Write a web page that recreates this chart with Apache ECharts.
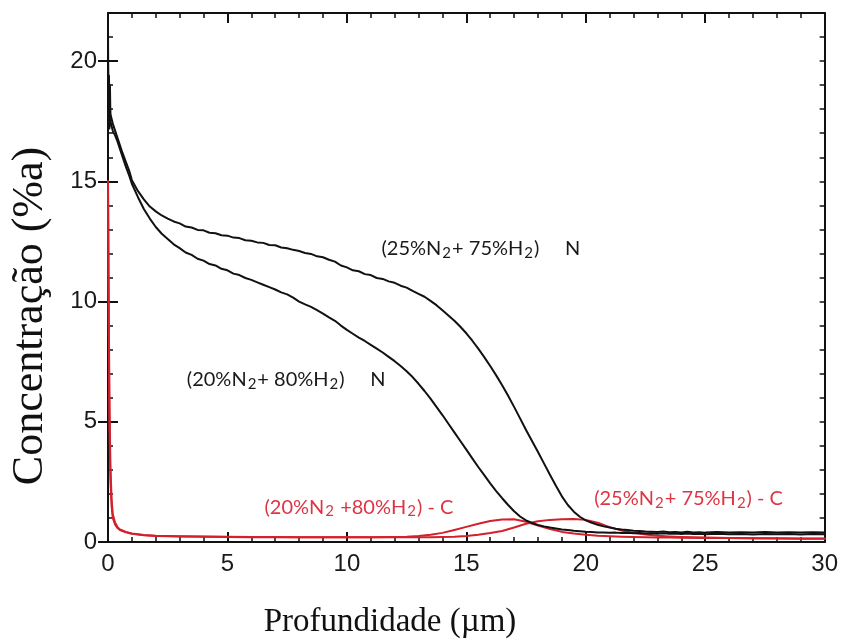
<!DOCTYPE html>
<html>
<head>
<meta charset="utf-8">
<title>Perfil de concentração</title>
<script src="https://cdn.jsdelivr.net/npm/echarts@6/dist/echarts.min.js"></script>
<style>
  html, body { margin: 0; padding: 0; background: #fff; }
  #chart { width: 841px; height: 642px; }
</style>
</head>
<body>
<div id="chart"></div>
<script>
// Depth grid (µm) for the nitrogen profiles
const depthN = [
  0, 0.02, 0.04, 0.06, 0.08, 0.1, 0.15, 0.2, 0.3, 0.4, 0.5, 0.6, 0.75, 0.9, 1.0,
  1.25, 1.5, 1.75, 2, 2.25, 2.5, 2.75, 3, 3.25, 3.5, 3.75, 4, 4.25, 4.5, 4.75, 5,
  5.25, 5.5, 5.75, 6, 6.25, 6.5, 6.75, 7, 7.25, 7.5, 7.75, 8, 8.25, 8.5, 8.75, 9, 9.25, 9.5, 9.75, 10,
  10.25, 10.5, 10.75, 11, 11.25, 11.5, 11.75, 12, 12.25, 12.5, 12.75, 13, 13.25, 13.5, 13.75, 14, 14.25, 14.5, 14.75, 15,
  15.25, 15.5, 15.75, 16, 16.25, 16.5, 16.75, 17, 17.25, 17.5, 17.75, 18, 18.25, 18.5, 18.75, 19, 19.25, 19.5, 19.75, 20,
  20.25, 20.5, 20.75, 21, 21.25, 21.5, 21.75, 22, 22.25, 22.5, 22.75, 23, 23.25, 23.5, 23.75, 24, 24.25, 24.5, 24.75, 25,
  25.5, 26, 26.5, 27, 27.5, 28, 28.5, 29, 29.5, 30
];

// N profile, (25%N2 + 75%H2)
const nitrogen25 = [
  21.2, 17.8, 19.4, 18.0, 19.0, 17.8, 17.6, 17.4, 17.1, 16.8, 16.5, 16.2, 15.8, 15.4, 15.05,
  14.6, 14.25, 13.95, 13.75, 13.58, 13.45, 13.33, 13.25, 13.12, 13.08, 12.98, 12.96, 12.86, 12.84, 12.76, 12.74,
  12.66, 12.64, 12.55, 12.53, 12.46, 12.44, 12.35, 12.34, 12.25, 12.22, 12.15, 12.1, 12.02, 11.98, 11.88, 11.84, 11.74, 11.66, 11.5, 11.42,
  11.3, 11.26, 11.14, 11.1, 10.98, 10.94, 10.84, 10.78, 10.66, 10.58, 10.44, 10.32, 10.2, 10.03, 9.85, 9.64, 9.42, 9.2, 8.95, 8.68,
  8.37, 8.04, 7.69, 7.32, 6.93, 6.52, 6.08, 5.62, 5.14, 4.66, 4.2, 3.74, 3.27, 2.8, 2.34, 1.9, 1.54, 1.26, 1.05, 0.9,
  0.8, 0.72, 0.65, 0.6, 0.55, 0.52, 0.5, 0.47, 0.46, 0.44, 0.43, 0.42, 0.44, 0.41, 0.42, 0.4, 0.43, 0.4, 0.41, 0.39,
  0.42, 0.4, 0.41, 0.39, 0.42, 0.4, 0.41, 0.39, 0.41, 0.4
];

// N profile, (20%N2 + 80%H2)
const nitrogen20 = [
  20.0, 17.4, 18.8, 17.2, 18.2, 17.5, 17.3, 17.1, 16.9, 16.65, 16.35, 16.05, 15.6, 15.2, 14.9,
  14.35, 13.85, 13.45, 13.1, 12.82, 12.6, 12.38, 12.22, 12.04, 11.94, 11.78, 11.7, 11.56, 11.5, 11.36, 11.3,
  11.16, 11.1, 10.98, 10.9, 10.8, 10.7, 10.6, 10.5, 10.38, 10.3, 10.16, 10.0, 9.88, 9.78, 9.64, 9.5, 9.34, 9.2, 9.0, 8.82,
  8.66, 8.5, 8.36, 8.2, 8.04, 7.88, 7.7, 7.52, 7.32, 7.1, 6.86, 6.58, 6.28, 5.96, 5.62, 5.28, 4.92, 4.56, 4.2, 3.84,
  3.48, 3.12, 2.78, 2.44, 2.12, 1.82, 1.54, 1.28, 1.06, 0.9, 0.79, 0.71, 0.65, 0.6, 0.56, 0.52, 0.5, 0.47, 0.45, 0.43,
  0.42, 0.4, 0.4, 0.38, 0.39, 0.37, 0.38, 0.36, 0.37, 0.35, 0.36, 0.34, 0.36, 0.34, 0.35, 0.33, 0.35, 0.33, 0.34, 0.32,
  0.34, 0.32, 0.33, 0.31, 0.33, 0.32, 0.33, 0.31, 0.33, 0.32
];

// Depth grid (µm) for the carbon profiles
const depthC = [
  0, 0.03, 0.06, 0.1, 0.15, 0.2, 0.3, 0.4, 0.5, 0.75, 1, 1.5, 2,
  3, 4, 5, 6, 7, 8, 9, 10, 11, 12,
  12.5, 13, 13.5, 14, 14.5, 15, 15.5, 16, 16.5, 17, 17.5, 18, 18.5, 19, 19.5, 20, 20.5, 21, 21.5, 22, 22.5, 23, 23.5, 24,
  25, 26, 27, 28, 29, 30
];

// C profile, (20%N2 + 80%H2)
const carbon20 = [
  15.0, 9.0, 5.0, 2.6, 1.5, 1.0, 0.72, 0.58, 0.5, 0.4, 0.34, 0.28, 0.25,
  0.23, 0.22, 0.21, 0.2, 0.2, 0.2, 0.2, 0.2, 0.2, 0.21,
  0.22, 0.25, 0.3, 0.38, 0.5, 0.63, 0.76, 0.87, 0.94, 0.95, 0.84, 0.68, 0.54, 0.42, 0.35, 0.3, 0.26, 0.24, 0.22, 0.21, 0.2, 0.19, 0.19, 0.18,
  0.17, 0.17, 0.16, 0.16, 0.15, 0.15
];

// C profile, (25%N2 + 75%H2)
const carbon25 = [
  15.0, 10.0, 6.0, 3.2, 1.8, 1.15, 0.8, 0.62, 0.52, 0.42, 0.35, 0.29, 0.26,
  0.24, 0.23, 0.22, 0.21, 0.21, 0.2, 0.2, 0.2, 0.2, 0.2,
  0.2, 0.2, 0.2, 0.21, 0.22, 0.25, 0.3, 0.37, 0.46, 0.6, 0.76, 0.86, 0.92, 0.95, 0.96, 0.92, 0.8, 0.62, 0.48, 0.38, 0.31, 0.26, 0.23, 0.21,
  0.19, 0.17, 0.16, 0.15, 0.14, 0.13
];

// Axis ticks
const xMajorTicks = [0, 5, 10, 15, 20, 25, 30];
const yMajorTicks = [0, 5, 10, 15, 20];

// Curve annotations: text segments (plain / subscript), anchor (depth, concentration), colour key
const curveLabels = [
  { parts: ['(25%N', '2', '+ 75%H', '2', ')     N'], at: [11.45, 12.2], tone: 'n' },
  { parts: ['(20%N', '2', '+ 80%H', '2', ')     N'], at: [3.3, 6.75], tone: 'n' },
  { parts: ['(20%N', '2', ' +80%H', '2', ') - C'], at: [6.55, 1.45], tone: 'c' },
  { parts: ['(25%N', '2', '+ 75%H', '2', ') - C'], at: [20.35, 1.8], tone: 'c' }
];

const INK = '#111';
const RED = '#d3202c';
const RED_TEXT = '#de3444';

const pair = (xs, ys) => xs.map((x, i) => [x, ys[i]]);

const chart = echarts.init(document.getElementById('chart'), null, { renderer: 'canvas' });

function xAxisDef(position, showLabels) {
  return {
    type: 'value', position: position, min: 0, max: 30, interval: 5,
    axisLine: { show: true, onZero: false, lineStyle: { color: INK, width: 2 } },
    axisTick: { show: true, inside: true, length: 10, lineStyle: { color: INK, width: 2 } },
    minorTick: { show: true, splitNumber: 5, length: 5, lineStyle: { color: INK, width: 1.5 } },
    splitLine: { show: false },
    axisLabel: {
      show: showLabels, margin: 10, color: '#1a1a1a', fontSize: 24,
      fontFamily: 'Liberation Sans, Arial, sans-serif',
      customValues: xMajorTicks
    }
  };
}

function yMinorAxis(position, showLabels) {
  return {
    type: 'value', position: position, min: 0, max: 22, interval: 1,
    axisLine: { show: true, onZero: false, lineStyle: { color: INK, width: 2 } },
    axisTick: { show: true, inside: true, length: 5, lineStyle: { color: INK, width: 1.5 } },
    splitLine: { show: false },
    axisLabel: {
      show: showLabels, margin: 11, color: '#1a1a1a', fontSize: 24,
      fontFamily: 'Liberation Sans, Arial, sans-serif',
      formatter: v => (v % 5 === 0 ? String(v) : '')
    }
  };
}

function yMajorAxis(position) {
  return {
    type: 'value', position: position, min: 0, max: 22, interval: 5,
    axisLine: { show: false },
    axisTick: { show: true, inside: true, length: 10, customValues: yMajorTicks, lineStyle: { color: INK, width: 2 } },
    splitLine: { show: false },
    axisLabel: { show: false }
  };
}

function lineSeries(name, xs, ys, color, width, z) {
  return {
    name: name, type: 'line', xAxisIndex: 0, yAxisIndex: 0,
    data: pair(xs, ys), showSymbol: false, symbol: 'none',
    smooth: false, z: z,
    lineStyle: { color: color, width: width, join: 'round', cap: 'round' }
  };
}

chart.setOption({
  animation: false,
  backgroundColor: '#fff',
  grid: { left: 108, right: 15, top: 13, bottom: 100, containLabel: false },
  xAxis: [xAxisDef('bottom', true), xAxisDef('top', false)],
  yAxis: [yMinorAxis('left', true), yMajorAxis('left'), yMinorAxis('right', false), yMajorAxis('right')],
  series: [
    lineSeries('C (20%N2+80%H2)', depthC, carbon20, RED, 2, 3),
    lineSeries('C (25%N2+75%H2)', depthC, carbon25, RED, 2, 3),
    lineSeries('N (20%N2+80%H2)', depthN, nitrogen20, INK, 2, 4),
    lineSeries('N (25%N2+75%H2)', depthN, nitrogen25, INK, 2, 4)
  ]
});

// Axis titles and curve annotations
const graphics = [
  {
    type: 'text', x: 30, y: 316, rotation: Math.PI / 2,
    style: {
      text: 'Concentração (%a)', x: 0, y: 0,
      align: 'center', verticalAlign: 'middle',
      font: '44px "Liberation Serif", "Times New Roman", serif', fill: '#111'
    }
  },
  {
    type: 'text', x: 390, y: 622,
    style: {
      text: 'Profundidade (µm)', x: 0, y: 0,
      align: 'center', verticalAlign: 'middle',
      font: '33px "Liberation Serif", "Times New Roman", serif', fill: '#111'
    }
  }
];

curveLabels.forEach(lbl => {
  const p = chart.convertToPixel({ xAxisIndex: 0, yAxisIndex: 0 }, lbl.at);
  const text = lbl.parts.map((s, i) => (i % 2 === 1 ? '{s|' + s + '}' : '{m|' + s + '}')).join('');
  const fill = lbl.tone === 'c' ? RED_TEXT : '#1a1a1a';
  graphics.push({
    type: 'text', x: p[0], y: p[1],
    style: {
      text: text, x: 0, y: 0,
      align: 'left', verticalAlign: 'middle',
      fill: fill,
      rich: {
        m: { fontFamily: 'Lato, "Open Sans", sans-serif', fontSize: 20, lineHeight: 24, fill: fill },
        s: { fontFamily: 'Lato, "Open Sans", sans-serif', fontSize: 15, lineHeight: 14, fill: fill, verticalAlign: 'bottom', padding: [0, 1, 0, 1] }
      }
    }
  });
});

chart.setOption({ graphic: graphics });
</script>
</body>
</html>
